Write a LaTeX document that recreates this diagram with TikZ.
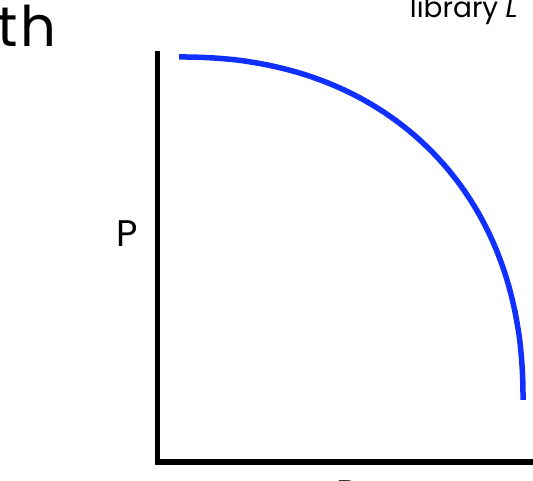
\documentclass[tikz,border=0pt]{standalone}
\usepackage{fontspec}
\setmainfont{Poppins}
\definecolor{curveblue}{RGB}{16,48,255}
\tikzset{
  axisline/.style={line width=5.5pt, black, line join=miter},
  pcurve/.style={line width=5.5pt, curveblue},
  lbl/.style={inner sep=0pt, text=black},
}
\begin{document}
\begin{tikzpicture}[x=1pt,y=-1pt]
\clip (0,0) rectangle (533,481);
\fill[white] (0,0) rectangle (533,481);
% texts
\node[lbl, anchor=base east, font=\fontsize{56}{64}\selectfont] (title) at (57,47) {u\kern-7pt t\kern3pt h};
\node[lbl, anchor=base east, font=\fontsize{28}{32}\selectfont] (lib) at (518,18) {library \textit{L}};
\node[lbl, anchor=base, font=\fontsize{37}{42}\selectfont] (plab) at (127,247) {P};
\node[lbl, anchor=base, font=\fontsize{37}{42}\selectfont] (rlab) at (348,506) {R};
% axes
\coordinate (ytop) at (157.5,51);
\coordinate (orig) at (157.5,462);
\coordinate (xend) at (540,462);
\draw[axisline] (ytop) -- (orig) -- (xend);
% frontier curve
\draw[pcurve] plot[domain=90:0, samples=120, variable=\t]
  ({179+344*pow(max(cos(\t),0.0001),0.91)}, {400-343*pow(max(sin(\t),0.0001),0.91)});
\end{tikzpicture}
\end{document}
